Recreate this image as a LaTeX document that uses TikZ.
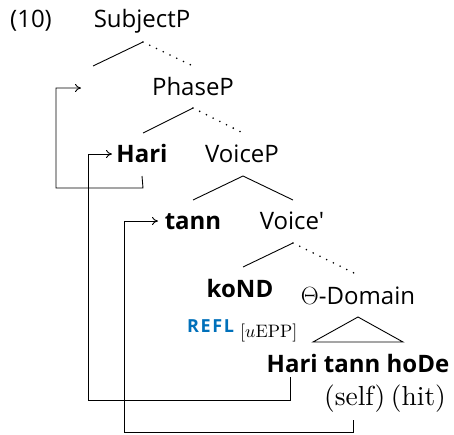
\documentclass[tikz,border=0pt]{standalone}
\usepackage{fontspec}
\usepackage{graphicx}
\setsansfont{Open Sans}
\newfontfamily\plainsf{Open Sans}[Ligatures=TeXOff]
\usetikzlibrary{arrows.meta}
\definecolor{reflblue}{RGB}{0,112,186}
\begin{document}
\begin{tikzpicture}[x=1pt,y=-1pt,
  lab/.style={font=\sffamily\fontsize{24}{28}\selectfont, anchor=base, inner sep=0pt},
  blab/.style={font=\sffamily\bfseries\fontsize{24}{28}\selectfont, anchor=base, inner sep=0pt},
  br/.style={line width=0.9pt},
  dotbr/.style={line width=1.8pt, dash pattern=on 0pt off 7.5pt, line cap=round},
  mv/.style={line width=0.9pt, -{To[length=6pt,width=8pt]}}
]
\useasboundingbox (0,0) rectangle (454,434);
% labels
\node[lab] (ex) at (31,27) {(10)};
\node[lab] (subj) at (142,27) {SubjectP};
\node[lab] (phase) at (193,95) {PhaseP};
\node[blab] (hari) at (142,162) {Hari};
\node[lab] (voicep) at (242,162) {VoiceP};
\node[blab] (tann) at (193,229) {tann};
\node[lab, font=\plainsf\fontsize{24}{28}\selectfont] (voicebar) at (292,229) {Voice'};
\node[blab] (kond) at (240,297) {koND};
\node[lab] (theta) at (358,304) {$\Theta$-Domain};
\node[anchor=base west, inner sep=0pt, font=\sffamily\bfseries\fontsize{18}{20}\selectfont, text=reflblue] (refl) at (187,332) {\addfontfeature{LetterSpace=9}REFL};
\node[anchor=base west, inner sep=0pt] (epp) at (240,337) {\scalebox{1.8}{\fontsize{10}{12}\selectfont$[u\mathrm{EPP}]$}};
\node[blab] (string) at (358,372) {Hari tann hoDe};
\node[anchor=base, inner sep=0pt] (gloss) at (385,405) {\scalebox{2.75}{\fontsize{10}{12}\selectfont(self)\hspace{2pt}(hit)}};
% branch points
\coordinate (a1) at (143,42); \coordinate (l1) at (93,66); \coordinate (r1) at (193,66);
\coordinate (a2) at (193,108); \coordinate (l2) at (143,133); \coordinate (r2) at (243,133);
\coordinate (a3) at (243,176); \coordinate (l3) at (193,200); \coordinate (r3) at (293,200);
\coordinate (a4) at (293,243); \coordinate (l4) at (243,267); \coordinate (r4) at (358,275);
\draw[br] (l1) -- (a1); \draw[dotbr] (a1) -- (r1);
\draw[br] (l2) -- (a2); \draw[dotbr] (a2) -- (r2);
\draw[br] (l3) -- (a3) -- (r3);
\draw[br] (l4) -- (a4); \draw[dotbr] (a4) -- (r4);
% triangle
\coordinate (ta) at (358,317); \coordinate (tl) at (313,342); \coordinate (tr) at (403,342);
\draw[br] (tl) -- (ta) -- (tr) -- cycle;
% movement arrows
\coordinate (land1) at (81,88);
\coordinate (land2) at (112,154);
\coordinate (land3) at (158,221);
\coordinate (hariTop) at (290,377);
\coordinate (selfTop) at (353,420);
\draw[mv] (hari.south |- 0,176) -- (143,188) -- (56,188) -- (56,88) -- (land1);
\draw[mv] (hariTop) -- (290,400) -- (88,400) -- (88,154) -- (land2);
\draw[mv] (selfTop) -- (353,432) -- (124,432) -- (124,221) -- (land3);
\end{tikzpicture}
\end{document}
